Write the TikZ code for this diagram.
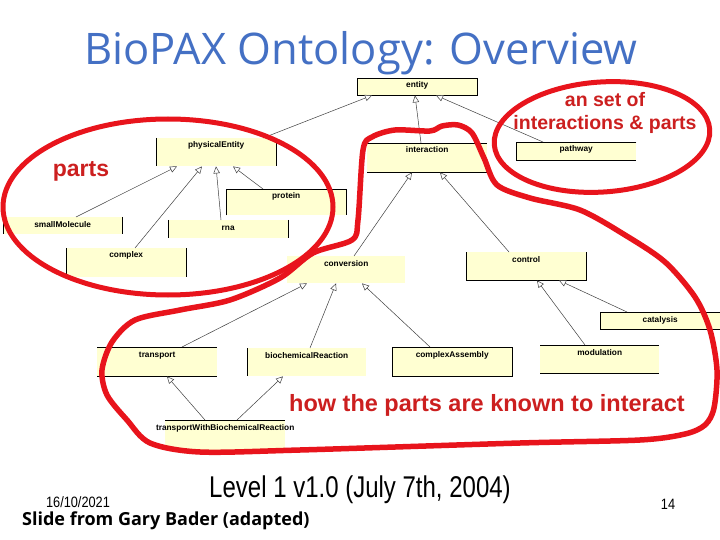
\documentclass[tikz,border=0pt]{standalone}
\usepackage{fontspec}
\setmainfont{Liberation Sans}
\newfontfamily\titlefont{Open Sans}
\usetikzlibrary{arrows.meta}
\definecolor{boxfill}{HTML}{FFFFD2}
\definecolor{annred}{HTML}{E8141C}
\definecolor{labred}{HTML}{CC1F1F}
\definecolor{titleblue}{HTML}{4470C4}
\begin{document}
\begin{tikzpicture}[x=1pt,y=-1pt,
  box/.style={fill=boxfill, draw=none, inner sep=0pt, anchor=north west},
  edge/.style={draw=black, line width=0.8pt},
  btext/.style={anchor=base, inner sep=0pt, font=\bfseries\fontsize{8.3}{9}\selectfont},
  inh/.style={draw=black!75, line width=0.5pt, -{Triangle[open, length=7pt, width=6.5pt, fill=white]}},
  redline/.style={draw=annred, line width=5pt, line cap=round, line join=round},
  redlab/.style={text=labred, font=\bfseries, anchor=base, inner sep=0pt}]
\useasboundingbox (0,0) rectangle (720,540);
\fill[white] (0,0) rectangle (720,540);

% title
\node[anchor=base, inner sep=0pt, text=titleblue, font=\titlefont\fontsize{43.5}{45}\selectfont] (title) at (361,65) {BioPAX Ontology: Overview};

% boxes
\node[box, minimum width=120pt, minimum height=17pt] (ent) at (357,78) {};
\node[box, minimum width=120pt, minimum height=28pt] (phys) at (156,138) {};
\node[box, minimum width=120pt, minimum height=29pt] (inter) at (367,143) {};
\node[box, minimum width=120pt, minimum height=18pt] (path) at (516,142) {};
\node[box, minimum width=120pt, minimum height=26pt] (prot) at (226,189) {};
\node[box, minimum width=119pt, minimum height=17pt] (small) at (3,217) {};
\node[box, minimum width=120pt, minimum height=18pt] (rna) at (168,220) {};
\node[box, minimum width=120pt, minimum height=29pt] (cplx) at (66,248) {};
\node[box, minimum width=118pt, minimum height=27pt] (conv) at (287,256) {};
\node[box, minimum width=120pt, minimum height=28pt] (ctrl) at (466,252) {};
\node[box, minimum width=120pt, minimum height=17pt] (cat) at (600,312) {};
\node[box, minimum width=120pt, minimum height=29pt] (trans) at (97,347) {};
\node[box, minimum width=119pt, minimum height=28pt] (bio) at (247,348) {};
\node[box, minimum width=120pt, minimum height=29pt] (ca) at (392,347) {};
\node[box, minimum width=119pt, minimum height=28pt] (mod) at (540,345) {};
\node[box, minimum width=120pt, minimum height=30pt] (twbr) at (165,420) {};

% visible box edges
\draw[edge] (ent.north west) rectangle (ent.south east);
\draw[edge] (phys.north west) -- (phys.south west) (phys.north east) -- (phys.south east);
\draw[edge] (inter.north west) -- (inter.north east) (inter.south west) -- (inter.south east);
\draw[edge] (path.north east) -- (path.north west) -- (path.south west) -- (path.south east);
\draw[edge] (prot.south west) -- (prot.north west) -- (prot.north east) -- (prot.south east);
\draw[edge] (small.north west) -- (small.south west) (small.north east) -- (small.south east);
\draw[edge] (rna.north west) -- (rna.south west) (rna.north east) -- (rna.south east);
\draw[edge] (cplx.north west) -- (cplx.south west) (cplx.north east) -- (cplx.south east);
\draw[edge] (ctrl.north west) -- (ctrl.south west) -- (ctrl.south east) -- (ctrl.north east);
\draw[edge] (cat.north east) -- (cat.north west) -- (cat.south west) -- (cat.south east);
\draw[edge] (trans.north west) -- (trans.north east) (trans.south west) -- (trans.south east);
\draw[edge] (bio.north west) -- (bio.south west);
\draw[edge] (ca.north west) rectangle (ca.south east);
\draw[edge] (mod.north west) -- (mod.north east) (mod.south west) -- (mod.south east);
\draw[edge] (twbr.north west) -- (twbr.north east);

% box labels
\node[btext] (tent) at ([yshift=-10pt]ent.north) {entity};
\node[btext] (tphys) at ([yshift=-10pt]phys.north) {physicalEntity};
\node[btext] (tinter) at ([yshift=-10pt]inter.north) {interaction};
\node[btext] (tpath) at ([yshift=-10pt]path.north) {pathway};
\node[btext] (tprot) at ([yshift=-10pt]prot.north) {protein};
\node[btext] (tsmall) at ([yshift=-10pt]small.north) {smallMolecule};
\node[btext] (trna) at ([yshift=-10pt]rna.north) {rna};
\node[btext] (tcplx) at ([yshift=-10pt]cplx.north) {complex};
\node[btext] (tconv) at ([yshift=-10pt]conv.north) {conversion};
\node[btext] (tctrl) at ([yshift=-10pt]ctrl.north) {control};
\node[btext] (tcat) at ([yshift=-10pt]cat.north) {catalysis};
\node[btext] (ttrans) at ([yshift=-10pt]trans.north) {transport};
\node[btext] (tbio) at ([yshift=-10pt]bio.north) {biochemicalReaction};
\node[btext] (tca) at ([yshift=-10pt]ca.north) {complexAssembly};
\node[btext] (tmod) at ([yshift=-10pt]mod.north) {modulation};
\node[btext] (ttwbr) at ([yshift=-10pt]twbr.north) {transportWithBiochemicalReaction};

% inheritance arrows
\draw[inh] ([xshift=107pt]phys.north west) -- ([xshift=15pt]ent.south west);
\draw[inh] ([xshift=54pt]inter.north west) -- ([xshift=58pt]ent.south west);
\draw[inh] ([xshift=27pt]path.north west) -- ([xshift=79pt]ent.south west);
\draw[inh] ([xshift=73pt]small.north west) -- ([xshift=21pt]phys.south west);
\draw[inh] ([xshift=69pt]cplx.north west) -- ([xshift=46pt]phys.south west);
\draw[inh] ([xshift=53pt]rna.north west) -- ([xshift=60pt]phys.south west);
\draw[inh] ([xshift=37pt]prot.north west) -- ([xshift=77pt]phys.south west);
\draw[inh] ([xshift=67pt]conv.north west) -- ([xshift=45pt]inter.south west);
\draw[inh] ([xshift=43pt]ctrl.north west) -- ([xshift=73pt]inter.south west);
\draw[inh] ([xshift=85pt]trans.north west) -- ([xshift=20pt]conv.south west);
\draw[inh] ([xshift=63pt]bio.north west) -- ([xshift=49pt]conv.south west);
\draw[inh] ([xshift=38pt]ca.north west) -- ([xshift=75pt]conv.south west);
\draw[inh] ([xshift=27pt]cat.north west) -- ([xshift=93pt]ctrl.south west);
\draw[inh] ([xshift=45pt]mod.north west) -- ([xshift=71pt]ctrl.south west);
\draw[inh] ([xshift=40pt]twbr.north west) -- ([xshift=70pt]trans.south west);
\draw[inh] ([xshift=72pt]twbr.north west) -- ([xshift=36pt]bio.south west);

% red annotations
\draw[redline] (168,207) ellipse [x radius=165pt, y radius=88pt];
\draw[redline, rotate around={4:(602,137)}] (602,137) ellipse [x radius=108pt, y radius=55pt];
\draw[redline, line width=5.5pt] plot[smooth cycle, tension=0.5] coordinates {
  (363,150) (372,137) (395,130) (430,131) (442,126) (458,125) (472,133)
  (484,158) (497,185) (530,198) (580,210) (625,235) (665,262) (695,297)
  (710,330) (717,370) (714,408) (705,425) (685,434) (640,440) (520,443)
  (300,450) (200,452) (150,443) (127,420) (107,395) (102,370) (112,342)
  (135,320) (180,310) (230,300) (280,278) (313,253) (352,240) (358,220)};

\node[redlab, font=\bfseries\fontsize{23}{24}\selectfont] (lparts) at (81,177) {parts};
\node[redlab, font=\bfseries\fontsize{19.5}{20}\selectfont] (lset1) at (605,107) {an set of};
\node[redlab, font=\bfseries\fontsize{19.5}{20}\selectfont] (lset2) at (605,130) {interactions \& parts};
\node[redlab, font=\bfseries\fontsize{23.5}{24}\selectfont] (lhow) at (487,411) {how the parts are known to interact};

% footer
\node[anchor=base, inner sep=0pt] (level) at (360,497) {\scalebox{0.8}[1]{\fontsize{30}{30}\selectfont Level 1 v1.0 (July 7th, 2004)}};
\node[anchor=base, inner sep=0pt] (date) at (78,507) {\scalebox{0.85}[1]{\fontsize{15}{15}\selectfont 16/10/2021}};
\node[anchor=base, inner sep=0pt] (pnum) at (668,509) {\scalebox{0.85}[1]{\fontsize{15}{15}\selectfont 14}};
\node[anchor=base west, inner sep=0pt, font=\titlefont\bfseries\fontsize{18}{18}\selectfont] (credit) at (22,525) {Slide from Gary Bader (adapted)};
\end{tikzpicture}
\end{document}
